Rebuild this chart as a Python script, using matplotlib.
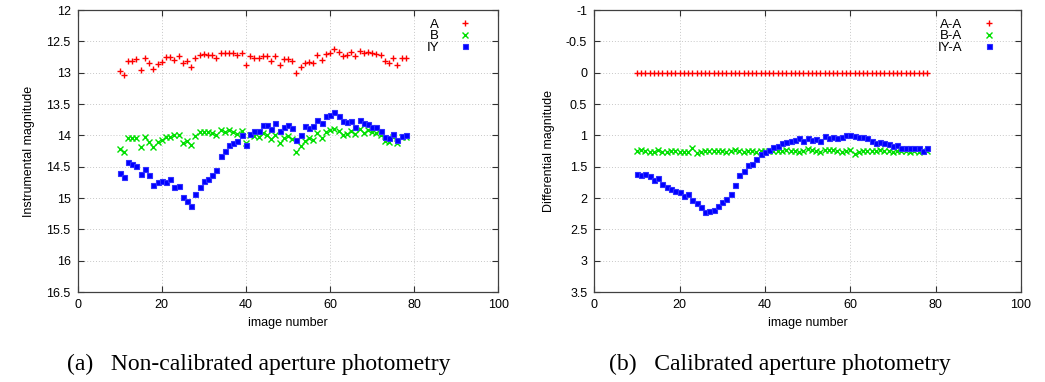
import numpy as np
import matplotlib
matplotlib.use("Agg")
from matplotlib import pyplot as plt
from matplotlib.ticker import FuncFormatter, MultipleLocator

# image numbers
images = list(range(10, 79))

# Non-calibrated instrumental magnitudes
mag_A = [12.98, 13.03, 12.81, 12.81, 12.78, 12.95, 12.77, 12.84, 12.94, 12.86,
         12.83, 12.75, 12.75, 12.79, 12.73, 12.85, 12.82, 12.91, 12.77, 12.72,
         12.70, 12.71, 12.71, 12.76, 12.69, 12.69, 12.68, 12.69, 12.72, 12.68,
         12.88, 12.74, 12.76, 12.76, 12.73, 12.74, 12.81, 12.73, 12.88, 12.78,
         12.78, 12.82, 13.01, 12.91, 12.84, 12.83, 12.84, 12.72, 12.79, 12.70,
         12.68, 12.62, 12.67, 12.74, 12.72, 12.67, 12.73, 12.65, 12.68, 12.67,
         12.69, 12.70, 12.71, 12.82, 12.85, 12.77, 12.87, 12.77, 12.77]
mag_B = [14.22, 14.26, 14.05, 14.05, 14.04, 14.18, 14.02, 14.10, 14.19, 14.10,
         14.08, 14.03, 14.02, 14.00, 14.00, 14.13, 14.09, 14.16, 14.01, 13.95,
         13.94, 13.95, 13.96, 13.99, 13.91, 13.95, 13.91, 13.94, 13.98, 13.93,
         14.13, 13.99, 14.01, 14.02, 13.96, 14.00, 14.06, 14.00, 14.13, 14.05,
         14.01, 14.06, 14.27, 14.17, 14.09, 14.05, 14.07, 13.97, 14.05, 13.95,
         13.91, 13.90, 13.93, 14.00, 13.98, 13.93, 13.98, 13.90, 13.96, 13.91,
         13.95, 13.96, 14.00, 14.09, 14.10, 14.03, 14.13, 14.03, 14.02]
mag_IY = [14.60, 14.67, 14.43, 14.46, 14.49, 14.62, 14.54, 14.64, 14.79, 14.74,
          14.73, 14.74, 14.70, 14.82, 14.81, 14.98, 15.04, 15.12, 14.94, 14.83,
          14.73, 14.70, 14.63, 14.55, 14.33, 14.25, 14.15, 14.13, 14.09, 13.99,
          14.15, 13.98, 13.93, 13.93, 13.84, 13.84, 13.90, 13.81, 13.93, 13.87,
          13.83, 13.89, 14.07, 14.00, 13.85, 13.89, 13.85, 13.76, 13.81, 13.69,
          13.68, 13.63, 13.69, 13.77, 13.78, 13.77, 13.86, 13.76, 13.80, 13.82,
          13.86, 13.86, 13.93, 14.02, 14.05, 13.98, 14.07, 14.01, 13.99]

# Calibrated (differential) magnitudes
diff_AA = [0.0] * 69
diff_BA = [1.245, 1.234, 1.245, 1.26, 1.27, 1.23, 1.26, 1.26, 1.255, 1.255,
           1.26, 1.27, 1.265, 1.207, 1.276, 1.27, 1.25, 1.245, 1.25, 1.25,
           1.25, 1.26, 1.245, 1.234, 1.245, 1.265, 1.255, 1.255, 1.26, 1.25,
           1.255, 1.245, 1.25, 1.255, 1.245, 1.24, 1.25, 1.255, 1.26, 1.25,
           1.22, 1.23, 1.245, 1.26, 1.235, 1.24, 1.235, 1.25, 1.26, 1.25,
           1.235, 1.29, 1.26, 1.25, 1.25, 1.255, 1.245, 1.24, 1.25, 1.255,
           1.26, 1.25, 1.255, 1.25, 1.26, 1.255, 1.265, 1.25, 1.255]
diff_IYA = [1.62, 1.64, 1.62, 1.65, 1.72, 1.68, 1.78, 1.82, 1.86, 1.89,
            1.90, 1.97, 1.94, 2.03, 2.08, 2.14, 2.22, 2.21, 2.19, 2.13,
            2.06, 2.01, 1.93, 1.80, 1.64, 1.57, 1.48, 1.45, 1.38, 1.30,
            1.26, 1.23, 1.18, 1.17, 1.12, 1.10, 1.09, 1.08, 1.05, 1.09,
            1.05, 1.07, 1.06, 1.09, 1.01, 1.05, 1.02, 1.04, 1.03, 0.99,
            1.00, 1.01, 1.02, 1.03, 1.05, 1.09, 1.12, 1.10, 1.12, 1.14,
            1.17, 1.16, 1.20, 1.20, 1.21, 1.21, 1.21, 1.25, 1.21]

red, green, blue = "#ff0000", "#00e000", "#0000ff"
plt.rcParams["font.family"] = ["Liberation Sans", "DejaVu Sans"]
plt.rcParams["font.size"] = 9

fig = plt.figure(figsize=(10.45, 3.82), dpi=100)
ax1 = fig.add_axes([0.0742, 0.2356, 0.4028, 0.7382])
ax2 = fig.add_axes([0.5686, 0.2356, 0.4084, 0.7382])

fmt = FuncFormatter(lambda v, pos: "%g" % v)


def style(ax, ylims):
    ax.set_xlim(0, 100)
    ax.set_ylim(*ylims)
    ax.xaxis.set_major_locator(MultipleLocator(20))
    ax.yaxis.set_major_locator(MultipleLocator(0.5))
    ax.yaxis.set_major_formatter(fmt)
    ax.grid(True, color="#c8c8c8", linestyle=(0, (1, 2)), linewidth=0.7)
    ax.tick_params(direction="in", length=4, width=0.8, top=True, right=True,
                   colors="#303030", labelcolor="black", labelsize=9, pad=5)
    for s in ax.spines.values():
        s.set_color("#404040")
        s.set_linewidth(0.9)
    ax.set_xlabel("image number", fontsize=9, labelpad=4)


kw = dict(linestyle="none")
blue_kw = dict(marker="s", ms=3.6, mew=0.8, color=blue, mec="#3030ff")
ax1.plot(images, mag_A, marker="+", ms=4.5, mew=1.0, color=red, label="A", **kw)
ax1.plot(images, mag_B, marker="x", ms=3.8, mew=1.0, color=green, label="B", **kw)
ax1.plot(images, mag_IY, label="IY", **blue_kw, **kw)
style(ax1, (16.5, 12))
ax1.set_ylabel("Instrumental magnitude", fontsize=9, labelpad=8)

ax2.plot(images, diff_AA, marker="+", ms=4.5, mew=1.0, color=red, label="A-A", **kw)
ax2.plot(images, diff_BA, marker="x", ms=3.8, mew=1.0, color=green, label="B-A", **kw)
ax2.plot(images, diff_IYA, label="IY-A", **blue_kw, **kw)
style(ax2, (3.5, -1))
ax2.set_ylabel("Differential magnitude", fontsize=9, labelpad=8)

for ax, x in ((ax1, 0.937), (ax2, 0.94)):
    ax.legend(loc="upper right", bbox_to_anchor=(x, 0.97), frameon=False,
              markerfirst=False, handlelength=1.0, handletextpad=1.5,
              labelspacing=-0.05, borderpad=0, borderaxespad=0, fontsize=9.5)

cap = dict(family=["Liberation Serif", "DejaVu Serif"], fontsize=17, ha="center", va="center")
fig.text(259 / 1045, 1 - 364 / 382, "(a)   Non-calibrated aperture photometry", **cap)
fig.text(780 / 1045, 1 - 364 / 382, "(b)   Calibrated aperture photometry", **cap)

fig.savefig("out.png", dpi=100)
